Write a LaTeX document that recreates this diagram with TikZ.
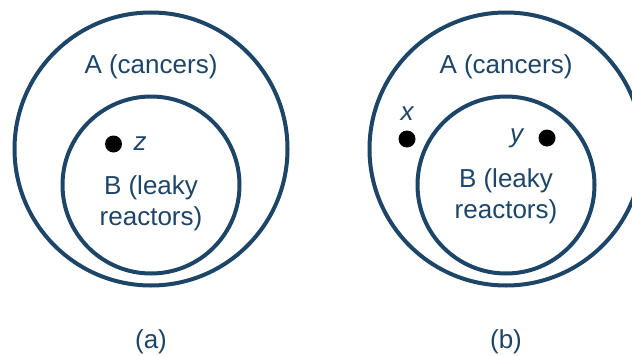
\documentclass[tikz,border=0pt]{standalone}
\usepackage{fontspec}
\setmainfont{Liberation Sans}
\usetikzlibrary{positioning}
\definecolor{setblue}{HTML}{1D4568}

\begin{document}
\begin{tikzpicture}[x=1pt,y=-1pt,node distance=36pt,on grid,line width=4pt]
\tikzstyle{set}=[circle,draw=setblue,inner sep=0pt]
\tikzstyle{outerset}=[set,minimum size=273pt]
\tikzstyle{innerset}=[set,minimum size=177pt]
\tikzstyle{elem}=[circle,fill=black,inner sep=0pt,minimum size=17pt]
\tikzstyle{lbl}=[text=setblue,font=\fontsize{26}{31}\selectfont,align=center,inner sep=0pt]
\tikzstyle{var}=[text=setblue,font=\fontsize{26}{31}\selectfont\itshape,inner sep=0pt]

	\useasboundingbox (0,0) rectangle (632,356);
	\clip (0,0) rectangle (632,356);

	% (a)
	\node[outerset] (A1) at (151,149) {};
	\node[innerset] (B1) [below=36pt of A1] {};
	\node[lbl] (A1txt) [above=82pt of A1] {A (cancers)};
	\node[lbl] (B1txt) [below=18pt of B1] {B (leaky\\reactors)};
	\node[elem] (z) [above left=41pt and 37.5pt of B1] {};
	\node[var] (ztxt) [right=26.5pt of z] {z};
	\node[lbl] (capa) [below=193pt of A1] {(a)};

	% (b)
	\node[outerset] (A2) at (506,149) {};
	\node[innerset] (B2) [below=36pt of A2] {};
	\node[lbl] (A2txt) [above=82pt of A2] {A (cancers)};
	\node[lbl] (B2txt) [below=11pt of B2] {B (leaky\\reactors)};
	\node[elem] (x) [above left=46pt and 99pt of B2] {};
	\node[var] (xtxt) [above=25pt of x] {x};
	\node[elem] (y) [above right=47pt and 41pt of B2] {};
	\node[var] (ytxt) [left=30.5pt of y] {y};
	\node[lbl] (capb) [below=193pt of A2] {(b)};
\end{tikzpicture}
\end{document}
